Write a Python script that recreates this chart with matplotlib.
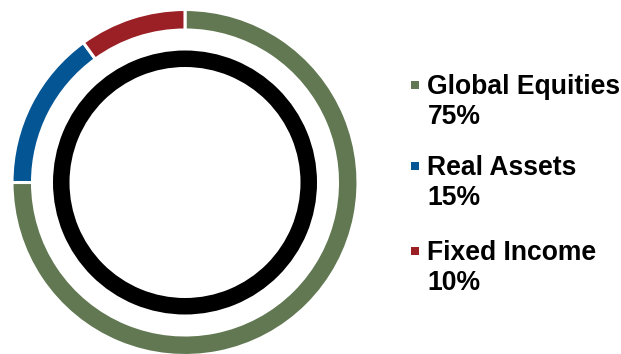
import matplotlib.pyplot as plt
from matplotlib.patches import Wedge, Rectangle

# --- data ---
labels = ["Global Equities", "Real Assets", "Fixed Income"]
shares = [75, 15, 10]
colors = ["#617852", "#035594", "#9a2026"]

W, H = 621, 354
fig = plt.figure(figsize=(W / 100, H / 100), dpi=100)

# donut axes, measured in pixels: centre at (185, 182.5)
cx, cy, half = 185, 182.5, 176
ax = fig.add_axes([(cx - half) / W, (H - cy - half) / H, 2 * half / W, 2 * half / H])

ax.pie(shares, colors=colors, radius=173, startangle=90, counterclock=False,
       wedgeprops=dict(width=20.5, edgecolor="white", linewidth=2.2),
       frame=True)
ax.set_xlim(-half, half)
ax.set_ylim(-half, half)
ax.set_aspect("equal")
ax.axis("off")

# inner black ring
ax.add_patch(Wedge((0, 0), 132, 0, 360, width=16.5, facecolor="black", edgecolor="none"))

# --- legend ---
fs = 19.1
tx = 427.5
rows = [(94, 124), (175, 205), (260, 290)]
for lab, val, col, (y1, y2) in zip(labels, shares, colors, rows):
    fig.text(tx / W, 1 - y1 / H, lab, fontsize=fs, fontweight="bold",
             family="Liberation Sans", va="baseline", ha="left")
    fig.text(tx / W, 1 - y2 / H, f"{val}%", fontsize=fs, fontweight="bold",
             family="Liberation Sans", va="baseline", ha="left")
    fig.patches.append(Rectangle((411.5 / W, 1 - (y1 - 5) / H), 8 / W, 8 / H,
                                 transform=fig.transFigure, facecolor=col,
                                 edgecolor="none"))

fig.savefig("out.png", dpi=100)
